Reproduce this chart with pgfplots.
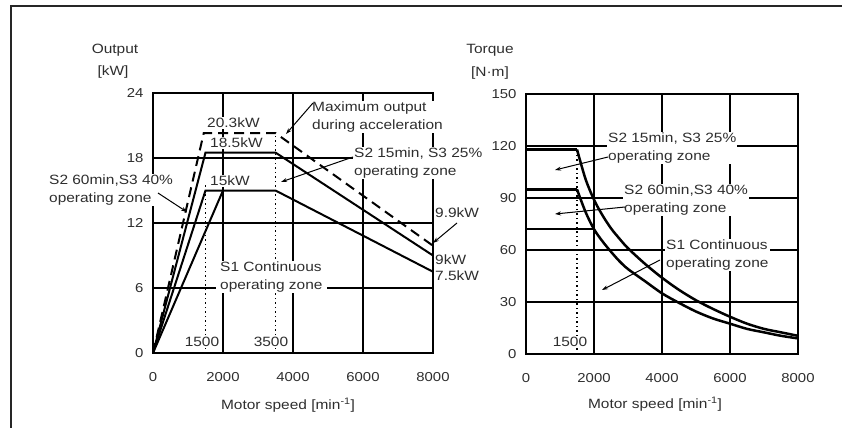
\documentclass[border=0pt]{standalone}
\usepackage{pgfplots}
\pgfplotsset{compat=1.18}
\usepackage{fontspec}
\setmainfont{Liberation Sans}[FakeStretch=1.15]
\usetikzlibrary{arrows.meta}

\definecolor{txt}{HTML}{2E2E2E}

\tikzset{
  lbl/.style={font=\fontsize{13.5}{17.5}\selectfont, text=txt, inner sep=1bp},
  box/.style={lbl, fill=white, align=left, anchor=west},
  arr/.style={line width=1bp, -{Stealth[length=6bp,width=4bp]}},
}

\pgfplotsset{
  motor/.style={
    scale only axis, anchor=south west, clip=false,
    xmin=0, xmax=8000, xtick={0,2000,...,8000},
    grid=major, major grid style={black, line width=1.1bp},
    axis line style={line width=1.4bp},
    tick style={draw=none},
    ticklabel style={font=\fontsize{13}{15}\selectfont, text=txt},
    /pgf/number format/assume math mode=true,
    /pgf/number format/1000 sep={},
    xticklabel style={yshift=-16bp},
    yticklabel style={xshift=-6bp},
  },
}

\begin{document}
\begin{tikzpicture}
\useasboundingbox (0,0) rectangle (842bp,-428bp);
\draw[line width=1.3bp, black!85] (11bp,-428bp) -- (11bp,-6bp) -- (842bp,-6bp);

% Output
\begin{axis}[motor, at={(153bp,-353bp)}, width=280bp, height=260bp,
  ymin=0, ymax=24, ytick={0,6,...,24}]
  % dotted markers
  \addplot[line width=1.5bp, dash pattern=on 1.5bp off 3bp] coordinates {(1500,0) (1500,15.5)};
  \addplot[line width=1.5bp, dash pattern=on 1.5bp off 3bp] coordinates {(3500,0) (3500,20.3)};
  % S1 continuous
  \addplot[line width=2bp] coordinates {(0,0) (2000,15) (3500,15) (8000,7.5)};
  % S2 60min, S3 40%
  \addplot[line width=2bp] coordinates {(0,0) (1500,15) (2000,15)};
  % S2 15min, S3 25%
  \addplot[line width=2bp] coordinates {(0,0) (1500,18.5) (3500,18.5) (8000,9)};
  % maximum output during acceleration
  \addplot[line width=2bp, dash pattern=on 10bp off 6bp] coordinates {(0,0) (1450,20.3) (3500,20.3) (8000,9.9)};
\end{axis}

% Torque
\begin{axis}[motor, at={(526bp,-354bp)}, width=272bp, height=260bp,
  ymin=0, ymax=150, ytick={0,30,...,150}]
  \addplot[line width=1.5bp, dash pattern=on 1.5bp off 3bp] coordinates {(1500,0) (1500,118)};
  % S2 15min, S3 25%
  \addplot[line width=2.5bp] coordinates {(0,118) (1500,118)};
  \addplot[line width=2.5bp, smooth] coordinates {
    (1500,118) (1750,101) (2000,89) (2250,80) (2500,72.5) (2750,66.5)
    (3000,61) (3500,52) (4000,44) (4500,37) (5000,31) (5500,26) (6000,21.5)
    (6500,17.5) (7000,14.5) (7500,12.5) (8000,10.5)};
  % S2 60min, S3 40%
  \addplot[line width=2.5bp] coordinates {(0,95) (1500,95)};
  % S1 continuous
  \addplot[line width=2.5bp] coordinates {(0,72) (2000,72)};
  \addplot[line width=2.5bp, smooth] coordinates {
    (1500,95) (1750,82) (2000,72) (2250,65) (2500,59) (2750,53.5) (3000,49)
    (3500,42) (4000,35) (4500,29.5) (5000,24.5) (5500,20.5) (6000,17.5)
    (6500,14.5) (7000,12.5) (7500,10.5) (8000,9)};
\end{axis}

\begin{scope}[x=1bp, y=-1bp]
  % left chart texts
  \node[lbl] at (115,50) {Output};
  \node[lbl] at (113,72) {[kW]};
  \node[lbl] at (288,405) {Motor speed [min\textsuperscript{-1}]};
  \node[box] at (311,117) {Maximum output\\during acceleration};
  \node[box] at (206,123) {20.3kW};
  \node[box] at (209,143) {18.5kW};
  \node[box] at (209,181) {15kW};
  \node[box] at (353,163) {S2 15min, S3 25\%\\operating zone};
  \node[box] at (48,190) {S2 60min,S3 40\%\\operating zone};
  \node[box] at (434,213) {9.9kW};
  \node[box] at (434,260) {9kW};
  \node[box] at (434,276) {7.5kW};
  \node[box, inner xsep=4bp] at (216,277) {S1 Continuous\\operating zone};
  \node[lbl, fill=white] at (202,342) {1500};
  \node[lbl, fill=white] at (271,342) {3500};
  \draw[arr] (313,103) -- (286,134);
  \draw[arr] (353,157) -- (281,182);
  \draw[arr] (158,193) -- (187,212);
  \draw[arr] (457,223) -- (433,243);
  % right chart texts
  \node[lbl] at (490,50) {Torque};
  \node[lbl] at (490,73) {[N·m]};
  \node[lbl] at (655,404) {Motor speed [min\textsuperscript{-1}]};
  \node[box] at (607,148) {S2 15min, S3 25\%\\operating zone};
  \node[box] at (623,200) {S2 60min,S3 40\%\\operating zone};
  \node[box] at (665,255) {S1 Continuous\\operating zone};
  \node[lbl, fill=white] at (570,342) {1500};
  \draw[arr] (608,157) -- (555,170);
  \draw[arr] (625,207) -- (555,214);
  \draw[arr] (660,260) -- (602,290);
\end{scope}
\end{tikzpicture}
\end{document}
